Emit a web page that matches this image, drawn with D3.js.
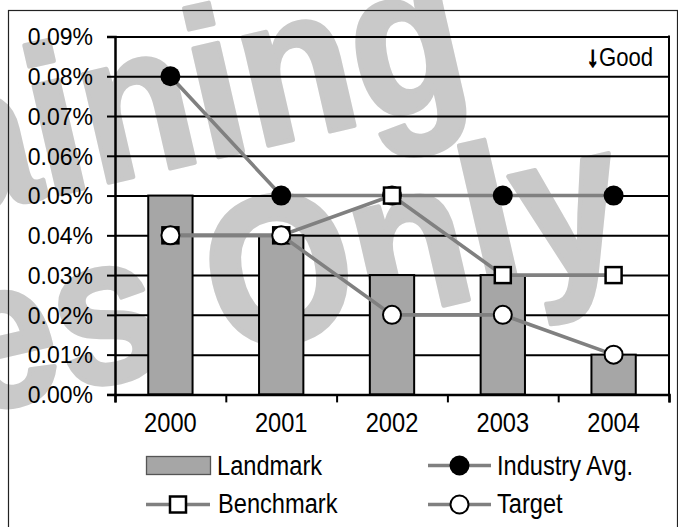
<!DOCTYPE html>
<html>
<head>
<meta charset="utf-8">
<script src="https://cdn.jsdelivr.net/npm/d3@7"></script>
<style>
  html, body { margin: 0; padding: 0; background: #fff; }
  svg { display: block; }
  text { font-family: "Liberation Sans", Arial, sans-serif; }
</style>
</head>
<body>
<svg id="chart" width="678" height="527"></svg>
<script>
// ---- data ----
const years = ["2000", "2001", "2002", "2003", "2004"];
const landmark = [0.05, 0.04, 0.03, 0.03, 0.01];
const industryAvg = [0.08, 0.05, 0.05, 0.05, 0.05];
const benchmark = [0.04, 0.04, 0.05, 0.03, 0.03];
const target = [0.04, 0.04, 0.02, 0.02, 0.01];
const yTicks = [0, 0.01, 0.02, 0.03, 0.04, 0.05, 0.06, 0.07, 0.08, 0.09];
const yTickLabels = ["0.00%", "0.01%", "0.02%", "0.03%", "0.04%", "0.05%", "0.06%", "0.07%", "0.08%", "0.09%"];
const legendLabels = ["Landmark", "Industry Avg.", "Benchmark", "Target"];
const noteText = "Good";
const watermarkLines = ["Training", "Purposes Only"];

// ---- layout ----
const svg = d3.select("#chart");
const L = 115, R = 669, T = 36.5, B = 394.4;
const barColor = "#a6a6a6", lineColor = "#808080";

svg.append("rect").attr("width", 678).attr("height", 527).attr("fill", "#fff");

// watermark (behind everything)
const wm = svg.append("g").attr("fill", "#c9c9c9").attr("stroke", "#c9c9c9").attr("stroke-width", 4)
  .attr("stroke-linejoin", "round")
  .style("font-family", "'Liberation Sans', Arial, sans-serif")
  .style("font-weight", "bold").style("font-size", "180px");
const wmPos = [[-224, 259], [-672, 563]];
const wmLen = [718, 1341];
watermarkLines.forEach((t, i) => {
  wm.append("text")
    .attr("transform", `translate(${wmPos[i][0]},${wmPos[i][1]}) rotate(-13) scale(1,1.167)`)
    .attr("textLength", wmLen[i]).attr("lengthAdjust", "spacingAndGlyphs")
    .text(t);
});

// outer frame
svg.append("rect").attr("x", 8.5).attr("y", 10.5).attr("width", 669).attr("height", 560)
  .attr("fill", "none").attr("stroke", "#222").attr("stroke-width", 1.2);

const x = d3.scaleBand().domain(years).range([L, R]).paddingInner(0).paddingOuter(0);
const xEdge = d3.scaleLinear().domain([0, years.length]).range([L, R]);
const y = d3.scaleLinear().domain([0, 0.09]).range([B, T]);

// gridlines
const grid = svg.append("g").attr("transform", `translate(${L},0)`)
  .call(d3.axisLeft(y).tickValues(yTicks).tickSize(-(R - L)).tickFormat(""));
grid.select(".domain").remove();
grid.selectAll("line").attr("stroke", "#000").attr("stroke-width", 2);

// y axis
const yAx = svg.append("g").attr("transform", `translate(${L},0)`)
  .call(d3.axisLeft(y).tickValues(yTicks).tickSize(8).tickPadding(14)
    .tickFormat((d, i) => yTickLabels[i]));
yAx.select(".domain").attr("stroke", "#000").attr("stroke-width", 2.5);
yAx.selectAll(".tick line").attr("stroke", "#000").attr("stroke-width", 2);
yAx.selectAll(".tick text").attr("fill", "#000").style("font-size", "23px")
  .attr("dy", "0.36em");

// right border
svg.append("line").attr("x1", R).attr("x2", R).attr("y1", T - 1).attr("y2", B)
  .attr("stroke", "#000").attr("stroke-width", 2);

// bars
const bw = x.bandwidth() * 0.4;
svg.append("g").selectAll("rect").data(landmark).join("rect")
  .attr("x", (d, i) => x(years[i]) + x.bandwidth() / 2 - bw / 2)
  .attr("y", d => y(d))
  .attr("width", bw)
  .attr("height", d => y(0) - y(d))
  .attr("fill", barColor).attr("stroke", "#000").attr("stroke-width", 2);

// x axis (boundary ticks)
const xAx = svg.append("g").attr("transform", `translate(0,${B})`)
  .call(d3.axisBottom(xEdge).tickValues(d3.range(years.length + 1)).tickSize(8).tickFormat(""));
xAx.select(".domain").attr("stroke", "#000").attr("stroke-width", 2.5);
xAx.selectAll(".tick line").attr("stroke", "#000").attr("stroke-width", 2);

// x labels
const xLab = svg.append("g").attr("transform", `translate(0,${B})`)
  .call(d3.axisBottom(x).tickSize(0).tickPadding(0));
xLab.select(".domain").remove();
xLab.selectAll(".tick text").attr("fill", "#000").style("font-size", "27.5px")
  .attr("y", 0).attr("dy", 0)
  .attr("transform", "translate(0,37.3) scale(0.86,1)");

// lines
const cx = i => x(years[i]) + x.bandwidth() / 2;
const line = d3.line().x((d, i) => cx(i)).y(d => y(d));
function series(vals, marker) {
  const g = svg.append("g");
  g.append("path").datum(vals).attr("d", line)
    .attr("fill", "none").attr("stroke", lineColor).attr("stroke-width", 3.6);
  vals.forEach((v, i) => marker(g, cx(i), y(v)));
}
const blackDot = (g, px, py) => g.append("circle").attr("cx", px).attr("cy", py).attr("r", 10).attr("fill", "#000");
const whiteDot = (g, px, py) => g.append("circle").attr("cx", px).attr("cy", py).attr("r", 9)
  .attr("fill", "#fff").attr("stroke", "#000").attr("stroke-width", 2);
const square = (g, px, py) => g.append("rect").attr("x", px - 8).attr("y", py - 8).attr("width", 16).attr("height", 16)
  .attr("fill", "#fff").attr("stroke", "#000").attr("stroke-width", 2.5);

series(industryAvg, blackDot);
series(benchmark, square);
series(target, whiteDot);

// note
svg.append("text").attr("transform", "translate(653,66) scale(0.85,1)")
  .attr("text-anchor", "end").style("font-size", "26px").attr("fill", "#000")
  .call(t => {
    t.append("tspan").style("font-weight", "bold").style("font-size", "28px")
      .attr("stroke", "#000").attr("stroke-width", 1.6).text("\u2193");
    t.append("tspan").text(noteText);
  });

// legend
const lg = svg.append("g");
const legText = (tx, ty, s) => lg.append("text").attr("transform", `translate(${tx},${ty}) scale(0.86,1)`)
  .style("font-size", "27.5px").attr("fill", "#000").text(s);
const legLine = (x1, x2, yy) => lg.append("line").attr("x1", x1).attr("x2", x2).attr("y1", yy).attr("y2", yy)
  .attr("stroke", lineColor).attr("stroke-width", 3.6);

lg.append("rect").attr("x", 146.5).attr("y", 456.5).attr("width", 64).attr("height", 18)
  .attr("fill", barColor).attr("stroke", "#555").attr("stroke-width", 1.3);
legText(217, 475, legendLabels[0]);

legLine(428, 491, 465.5);
blackDot(lg, 459.5, 465.5);
legText(497, 475, legendLabels[1]);

legLine(146, 210, 504.5);
square(lg, 178, 504.5);
legText(218, 513.3, legendLabels[2]);

legLine(428, 491, 504.5);
whiteDot(lg, 459.5, 504.5);
legText(497, 513.3, legendLabels[3]);
</script>
</body>
</html>
